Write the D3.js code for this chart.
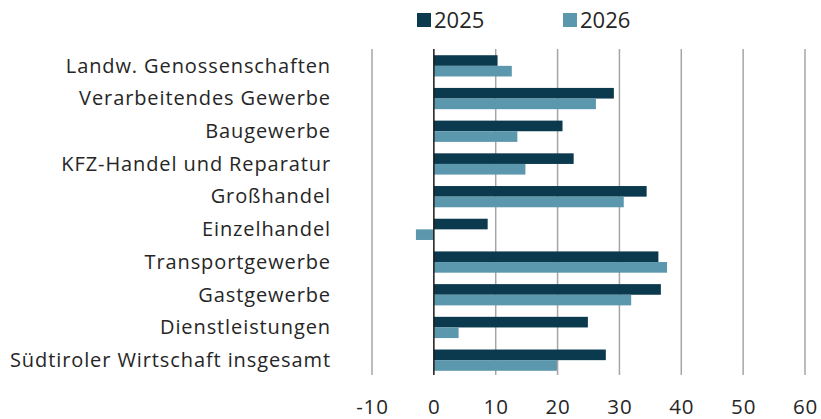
<!DOCTYPE html>
<html>
<head>
<meta charset="utf-8">
<script src="https://cdn.jsdelivr.net/npm/d3@7"></script>
<style>
  body { margin: 0; background: #fff; }
  svg text { font-family: "Open Sans", "Noto Sans", sans-serif; fill: #262626; }
</style>
</head>
<body>
<div id="chart"></div>
<script>
// Werte
const categories = [
  "Landw. Genossenschaften",
  "Verarbeitendes Gewerbe",
  "Baugewerbe",
  "KFZ-Handel und Reparatur",
  "Großhandel",
  "Einzelhandel",
  "Transportgewerbe",
  "Gastgewerbe",
  "Dienstleistungen",
  "Südtiroler Wirtschaft insgesamt"
];
const values2025 = [10.3, 29.1, 20.8, 22.6, 34.4, 8.7, 36.3, 36.7, 24.9, 27.8];
const values2026 = [12.6, 26.2, 13.5, 14.8, 30.7, -2.9, 37.7, 31.9, 4.0, 19.9];
const seriesNames = ["2025", "2026"];
const tickValues = [-10, 0, 10, 20, 30, 40, 50, 60];

const width = 821, height = 419;
const colors = ["#0b3a4e", "#5b97ad"];

const svg = d3.select("#chart").append("svg")
  .attr("width", width)
  .attr("height", height);

const x = d3.scaleLinear()
  .domain([-10, 60])
  .range([372, 805]);

const y = d3.scaleBand()
  .domain(categories)
  .range([49.5, 376.5])
  .paddingInner(0.35)
  .paddingOuter(0.175);

const ySub = d3.scaleBand()
  .domain(seriesNames)
  .range([0, y.bandwidth()]);

// Gitterlinien
svg.append("g")
  .selectAll("line")
  .data(tickValues.filter(d => d !== 0))
  .enter()
  .append("line")
  .attr("x1", d => x(d))
  .attr("x2", d => x(d))
  .attr("y1", 49)
  .attr("y2", 375)
  .attr("stroke", "#a6a6a6")
  .attr("stroke-width", 1.5);

// Achsenbeschriftung unten
const xAxis = svg.append("g")
  .attr("transform", "translate(0,396)")
  .call(d3.axisBottom(x).tickValues(tickValues).tickFormat(d => String(d)).tickSize(0).tickPadding(0));
xAxis.select(".domain").remove();
xAxis.selectAll("text")
  .attr("dy", "0.88em")
  .style("font-size", "20.5px")
  .style("letter-spacing", "0.9px");

// Balken
const rows = categories.map((c, i) => ({ cat: c, vals: [values2025[i], values2026[i]] }));

const groups = svg.append("g")
  .selectAll("g")
  .data(rows)
  .enter()
  .append("g")
  .attr("transform", d => "translate(0," + y(d.cat) + ")");

groups.selectAll("rect")
  .data(d => d.vals.map((v, j) => ({ key: seriesNames[j], value: v })))
  .enter()
  .append("rect")
  .attr("x", d => x(Math.min(0, d.value)))
  .attr("width", d => Math.abs(x(d.value) - x(0)))
  .attr("y", d => ySub(d.key))
  .attr("height", ySub.bandwidth())
  .attr("fill", (d, j) => colors[j]);

// Nulllinie
svg.append("line")
  .attr("x1", x(0)).attr("x2", x(0))
  .attr("y1", 49).attr("y2", 375)
  .attr("stroke", "#1a1a1a")
  .attr("stroke-width", 1.5);

// Kategorien
const yAxis = svg.append("g")
  .attr("transform", "translate(331,0)")
  .call(d3.axisLeft(y).tickSize(0).tickPadding(0));
yAxis.select(".domain").remove();
yAxis.selectAll("text")
  .style("font-size", "20px")
  .style("letter-spacing", "0.9px")
  .attr("dy", "0.34em");

// Legende
const legend = svg.append("g")
  .selectAll("g")
  .data(seriesNames)
  .enter()
  .append("g")
  .attr("transform", (d, i) => "translate(" + [417, 563][i] + ",0)");

legend.append("rect")
  .attr("x", 0).attr("y", 13)
  .attr("width", 14).attr("height", 14)
  .attr("fill", (d, i) => colors[i]);

legend.append("text")
  .attr("x", 17).attr("y", 28)
  .style("font-size", "22px")
  .text(d => d);
</script>
</body>
</html>
